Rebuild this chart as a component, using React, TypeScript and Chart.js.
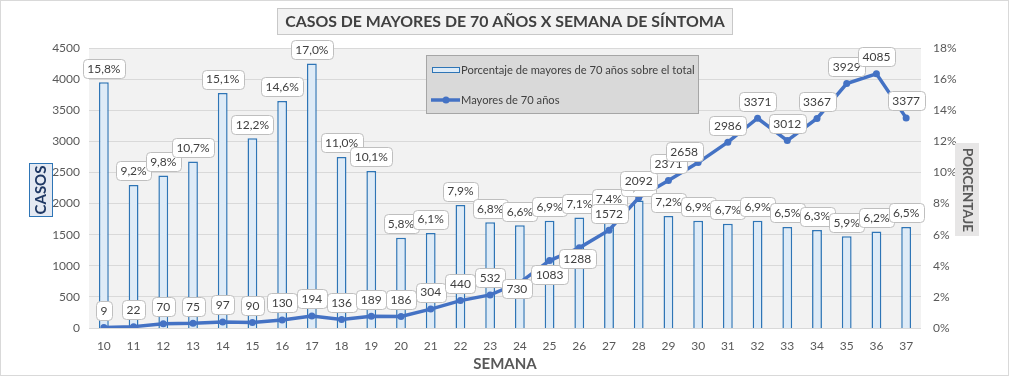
import React, { useEffect, useRef } from "react";
import { Chart, registerables } from "chart.js";

Chart.register(...registerables);

// ---------- data ----------
const weeks = ["10","11","12","13","14","15","16","17","18","19","20","21","22","23","24","25","26","27","28","29","30","31","32","33","34","35","36","37"];
const casos = [9,22,70,75,97,90,130,194,136,189,186,304,440,532,730,1083,1288,1572,2092,2371,2658,2986,3371,3012,3367,3929,4085,3377];
const porcentaje = [15.8,9.2,9.8,10.7,15.1,12.2,14.6,17.0,11.0,10.1,5.8,6.1,7.9,6.8,6.6,6.9,7.1,7.4,8.2,7.2,6.9,6.7,6.9,6.5,6.3,5.9,6.2,6.5];
const casosAxis = { max: 4500, step: 500 };
const pctAxis = { max: 18, step: 2 };

const TITLE = "CASOS DE MAYORES DE 70 AÑOS X SEMANA DE SÍNTOMA";
const BAR_LABEL = "Porcentaje de mayores de 70 años sobre el total";
const LINE_LABEL = "Mayores de 70 años";

// label nudges (px) for a few line labels, as placed in the original
const lineLabelNudge: Record<number, [number, number]> = {
  14: [-3, 23],
  15: [0, 31],
  16: [-2, 28],
  20: [-14, 6],
};

const FONT = "Lato, 'Open Sans', 'DejaVu Sans', sans-serif";

function rrect(ctx: CanvasRenderingContext2D, x: number, y: number, w: number, h: number, r: number) {
  ctx.beginPath();
  ctx.moveTo(x + r, y);
  ctx.lineTo(x + w - r, y);
  ctx.arcTo(x + w, y, x + w, y + r, r);
  ctx.lineTo(x + w, y + h - r);
  ctx.arcTo(x + w, y + h, x + w - r, y + h, r);
  ctx.lineTo(x + r, y + h);
  ctx.arcTo(x, y + h, x, y + h - r, r);
  ctx.lineTo(x, y + r);
  ctx.arcTo(x, y, x + r, y, r);
  ctx.closePath();
}

function drawLabel(ctx: CanvasRenderingContext2D, text: string, cx: number, cy: number) {
  ctx.font = `12px ${FONT}`;
  const w = Math.round(ctx.measureText(text).width + 9);
  const h = 19;
  const x = Math.round(cx - w / 2) + 0.5;
  const y = Math.round(cy - h / 2) + 0.5;
  rrect(ctx, x, y, w, h, 4);
  ctx.fillStyle = "#ffffff";
  ctx.fill();
  ctx.strokeStyle = "#bfbfbf";
  ctx.lineWidth = 1;
  ctx.stroke();
  ctx.fillStyle = "#404040";
  ctx.textAlign = "center";
  ctx.textBaseline = "middle";
  ctx.fillText(text, cx, cy + 0.5);
}

function fitFont(ctx: CanvasRenderingContext2D, text: string, weight: string, target: number) {
  ctx.font = `${weight} 20px ${FONT}`;
  const w = ctx.measureText(text).width;
  return (20 * target) / w;
}

const decor = {
  id: "decor",
  beforeDraw(chart: any) {
    const { ctx, chartArea } = chart;
    ctx.save();
    ctx.fillStyle = "#ffffff";
    ctx.fillRect(0, 0, chart.width, chart.height);
    ctx.fillStyle = "#f2f2f2";
    ctx.fillRect(chartArea.left, chartArea.top, chartArea.right - chartArea.left, chartArea.bottom - chartArea.top);
    ctx.restore();
  },
  afterDatasetsDraw(chart: any) {
    const { ctx } = chart;
    ctx.save();
    const barMeta = chart.getDatasetMeta(1);
    barMeta.data.forEach((el: any, i: number) => {
      const t = porcentaje[i].toFixed(1).replace(".", ",") + "%";
      drawLabel(ctx, t, el.x, el.y - 14);
    });
    const lineMeta = chart.getDatasetMeta(0);
    lineMeta.data.forEach((el: any, i: number) => {
      const n = lineLabelNudge[i] || [0, 0];
      drawLabel(ctx, String(casos[i]), el.x + n[0], el.y - 17 + n[1]);
    });
    ctx.restore();
  },
  afterDraw(chart: any) {
    const { ctx } = chart;
    ctx.save();
    // title box
    ctx.fillStyle = "#f2f2f2";
    ctx.fillRect(277.5, 8.5, 455, 26);
    ctx.strokeStyle = "#c8c8c8";
    ctx.lineWidth = 1;
    ctx.strokeRect(277.5, 8.5, 455, 26);
    const ts = fitFont(ctx, TITLE, "bold", 440);
    ctx.font = `bold ${ts}px ${FONT}`;
    ctx.fillStyle = "#404040";
    ctx.textAlign = "center";
    ctx.textBaseline = "middle";
    ctx.fillText(TITLE, 505, 22);

    // legend box
    ctx.fillStyle = "#d9d9d9";
    ctx.fillRect(426.5, 55.5, 272, 58);
    ctx.strokeStyle = "#a6a6a6";
    ctx.strokeRect(426.5, 55.5, 272, 58);
    ctx.fillStyle = "#deebf7";
    ctx.fillRect(432.5, 67.5, 27, 5);
    ctx.strokeStyle = "#2e75b6";
    ctx.strokeRect(432.5, 67.5, 27, 5);
    ctx.strokeStyle = "#4472c4";
    ctx.lineWidth = 3.5;
    ctx.beginPath();
    ctx.moveTo(431, 100);
    ctx.lineTo(460, 100);
    ctx.stroke();
    ctx.fillStyle = "#4472c4";
    ctx.beginPath();
    ctx.arc(446, 100, 3.5, 0, Math.PI * 2);
    ctx.fill();
    const ls = fitFont(ctx, BAR_LABEL, "normal", 234);
    ctx.font = `${ls}px ${FONT}`;
    ctx.fillStyle = "#404040";
    ctx.textAlign = "left";
    ctx.fillText(BAR_LABEL, 461, 70);
    ctx.fillText(LINE_LABEL, 461, 100);

    // axis title: CASOS
    ctx.fillStyle = "#e4e9f2";
    ctx.fillRect(29.5, 163.5, 23, 53);
    ctx.strokeStyle = "#2e75b6";
    ctx.lineWidth = 1;
    ctx.strokeRect(29.5, 163.5, 23, 53);
    ctx.save();
    ctx.translate(41.5, 190);
    ctx.rotate(-Math.PI / 2);
    ctx.font = `bold 15px ${FONT}`;
    ctx.fillStyle = "#1f3864";
    ctx.textAlign = "center";
    ctx.textBaseline = "middle";
    ctx.fillText("CASOS", 0, 0);
    ctx.restore();

    // axis title: PORCENTAJE
    ctx.fillStyle = "#e7e6e6";
    ctx.fillRect(955, 143, 24, 93);
    ctx.save();
    ctx.translate(967, 190);
    ctx.rotate(Math.PI / 2);
    const ps = fitFont(ctx, "PORCENTAJE", "bold", 84);
    ctx.font = `bold ${ps}px ${FONT}`;
    ctx.fillStyle = "#595959";
    ctx.textAlign = "center";
    ctx.textBaseline = "middle";
    ctx.fillText("PORCENTAJE", 0, 0);
    ctx.restore();

    // x axis title
    ctx.font = `bold 15px ${FONT}`;
    ctx.fillStyle = "#595959";
    ctx.textAlign = "center";
    ctx.textBaseline = "middle";
    ctx.fillText("SEMANA", 505, 364);

    // outer border
    ctx.strokeStyle = "#d9d9d9";
    ctx.lineWidth = 1;
    ctx.strokeRect(0.5, 0.5, chart.width - 1, chart.height - 1);
    ctx.restore();
  },
};

export default function App() {
  const ref = useRef<HTMLCanvasElement | null>(null);
  useEffect(() => {
    if (!ref.current) return;
    const tickFont = { family: FONT, size: 12 };
    const chart = new Chart(ref.current, {
      type: "bar",
      data: {
        labels: weeks,
        datasets: [
          {
            type: "line",
            label: LINE_LABEL,
            data: casos,
            yAxisID: "y",
            borderColor: "#4472c4",
            backgroundColor: "#4472c4",
            borderWidth: 3.5,
            pointRadius: 3.5,
            pointBackgroundColor: "#4472c4",
            pointBorderWidth: 0,
            tension: 0,
            order: 0,
          } as any,
          {
            type: "bar",
            label: BAR_LABEL,
            data: porcentaje,
            yAxisID: "y1",
            backgroundColor: "#deebf7",
            borderColor: "#2e75b6",
            borderWidth: 1.5,
            barPercentage: 0.33,
            categoryPercentage: 1,
            order: 1,
          },
        ],
      },
      options: {
        animation: false,
        responsive: false,
        devicePixelRatio: 1,
        layout: { padding: { top: 48, left: 0, right: 0, bottom: 0 } },
        plugins: {
          legend: { display: false },
          title: { display: false },
          tooltip: { enabled: false },
        },
        scales: {
          x: {
            offset: true,
            grid: { display: false },
            border: { display: false },
            ticks: { color: "#595959", font: tickFont, padding: 3, maxRotation: 0, autoSkip: false },
            afterFit: (s: any) => { s.height = 48; },
          },
          y: {
            position: "left",
            min: 0,
            max: casosAxis.max,
            ticks: { stepSize: casosAxis.step, color: "#595959", font: tickFont, padding: 9, callback: (v: any) => String(v) },
            grid: { color: "#d9d9d9", drawTicks: false },
            border: { display: false },
            afterFit: (s: any) => { s.width = 89; },
          },
          y1: {
            position: "right",
            min: 0,
            max: pctAxis.max,
            ticks: { stepSize: pctAxis.step, color: "#595959", font: tickFont, padding: 12, callback: (v: any) => v + "%" },
            grid: { display: false, drawTicks: false },
            border: { display: false },
            afterFit: (s: any) => { s.width = 88; },
          },
        },
      },
      plugins: [decor],
    });
    return () => chart.destroy();
  }, []);
  return (
    <div style={{ position: "absolute", left: 0, top: 0, width: 1009, height: 376 }}>
      <canvas ref={ref} width={1009} height={376} />
    </div>
  );
}
